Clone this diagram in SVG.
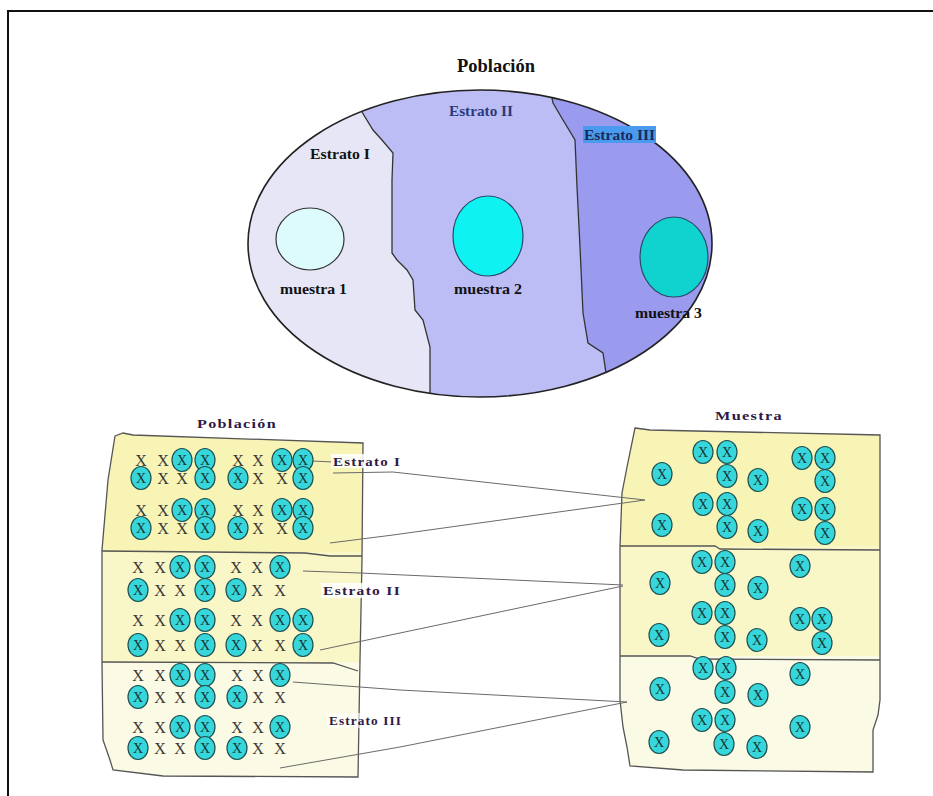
<svg xmlns="http://www.w3.org/2000/svg" xmlns:xlink="http://www.w3.org/1999/xlink" width="933" height="796" viewBox="0 0 933 796">
<style>
.t{font-family:"Liberation Serif","Times New Roman",serif;font-weight:bold;}
.top{font-size:15px;fill:#111;}
.lbl{font-size:12px;fill:#2E1A47;letter-spacing:1px;}
.px{font-family:"Liberation Serif",serif;font-size:16px;fill:#3a3a3a;text-anchor:middle;}
.cx{font-family:"Liberation Serif",serif;font-size:14px;fill:#1a3535;text-anchor:middle;}
.bd{fill:none;stroke:#333;stroke-width:1.3;}
.pe{fill:none;stroke:#555;stroke-width:1.3;}
.cn{fill:none;stroke:#6a6a6a;stroke-width:1;}
</style>
<defs>
<ellipse id="ci" cx="0" cy="0" rx="10" ry="11.5" fill="#36D6DA" stroke="#1F5050" stroke-width="1.2"/>
<clipPath id="ec"><ellipse cx="480" cy="243.5" rx="232" ry="153.5"/></clipPath>
<clipPath id="lp"><path d="M115,436 L123,433 L133,435 L363,443 L362,560 L360,660 L358,777 L163,776 L113,770 L110,760 L103,740 L102,663 L102,550 L108,480 Z"/></clipPath>
<clipPath id="rp"><path d="M635,428 L650,430 L880,435 L880,700 L878,715 L873,730 L873,772 L683,770 L630,766 L627,747 L623,727 L620,700 L620,547 L622,493 L627,467 Z"/></clipPath>
</defs>
<rect width="933" height="796" fill="#fff"/>
<path d="M8,796 L8,11 L933,11" fill="none" stroke="#111" stroke-width="2"/>

<g id="poblacion-top">
<text class="t" x="457" y="72" font-size="19" textLength="78" lengthAdjust="spacingAndGlyphs" fill="#111">Población</text>
<g clip-path="url(#ec)">
<rect x="240" y="80" width="480" height="330" fill="#E6E6F6"/>
<path d="M361,80 L361,108 L362,112 L373,130 L382,140 L393,153 L392,180 L392,253 L397,260 L407,270 L413,280 L415,310 L423,320 L430,347 L430,400 L608,400 L607,380 L603,353 L588,343 L583,313 L580,247 L577,187 L575,140 L563,120 L553,103 L550,88 L550,80 Z" fill="#BDBDF5"/>
<path d="M550,80 L550,88 L553,103 L563,120 L575,140 L577,187 L580,247 L583,313 L588,343 L603,353 L607,380 L608,400 L720,400 L720,80 Z" fill="#9A9AEE"/>
<path class="bd" d="M361,108 L362,112 L373,130 L382,140 L393,153 L392,180 L392,253 L397,260 L407,270 L413,280 L415,310 L423,320 L430,347 L430,400"/>
<path class="bd" d="M550,88 L553,103 L563,120 L575,140 L577,187 L580,247 L583,313 L588,343 L603,353 L607,380 L608,400"/>
</g>
<ellipse cx="480" cy="243.5" rx="232" ry="153.5" fill="none" stroke="#222" stroke-width="1.6"/>
</g>
<g id="estrato1-top">
<text class="t top" x="310" y="159" textLength="60" lengthAdjust="spacingAndGlyphs">Estrato I</text>
<ellipse cx="310" cy="239" rx="34" ry="31" fill="#DDFBFC" stroke="#333" stroke-width="1.2"/>
<text class="t top" x="280" y="294" textLength="67" lengthAdjust="spacingAndGlyphs">muestra 1</text>
</g>
<g id="estrato2-top">
<text class="t top" x="449" y="116" textLength="64" lengthAdjust="spacingAndGlyphs" style="fill:#2B3A7A">Estrato II</text>
<ellipse cx="488" cy="236" rx="35" ry="40" fill="#0FF2F2" stroke="#2a4a6a" stroke-width="1.2"/>
<text class="t top" x="454" y="294" textLength="68" lengthAdjust="spacingAndGlyphs">muestra 2</text>
</g>
<g id="estrato3-top">
<rect x="583" y="126" width="73" height="17" fill="#4A9BEF"/>
<text class="t top" x="584" y="140" textLength="71" lengthAdjust="spacingAndGlyphs" style="fill:#1a2a5a">Estrato III</text>
<ellipse cx="674" cy="257" rx="34" ry="40" fill="#10D2CE" stroke="#2a4a6a" stroke-width="1.2"/>
<text class="t top" x="635" y="318" textLength="67" lengthAdjust="spacingAndGlyphs">muestra 3</text>
</g>

<g id="panel-poblacion">
<text class="t lbl" x="197" y="428" textLength="80" lengthAdjust="spacingAndGlyphs">Población</text>
<g clip-path="url(#lp)">
<rect x="95" y="425" width="275" height="129" fill="#F8F4B6"/>
<rect x="95" y="552" width="275" height="114" fill="#F9F6C8"/>
<rect x="95" y="662" width="275" height="120" fill="#FBFAE4"/>
</g>
<path class="pe" d="M115,436 L123,433 L133,435 L363,443 L362,560 L360,660 L358,777 L163,776 L113,770 L110,760 L103,740 L102,663 L102,550 L108,480 Z"/>
<path class="pe" d="M102,551 L305,553 L330,556 L362,556"/>
<path class="pe" d="M102,662 L333,663 L358,671"/>
</g>

<g id="panel-muestra">
<text class="t lbl" x="715" y="420" textLength="68" lengthAdjust="spacingAndGlyphs">Muestra</text>
<g clip-path="url(#rp)">
<rect x="615" y="420" width="270" height="128" fill="#F8F4B6"/>
<rect x="615" y="546" width="270" height="113" fill="#F9F6C8"/>
<rect x="615" y="656" width="270" height="120" fill="#FBFAE4"/>
</g>
<path class="pe" d="M635,428 L650,430 L880,435 L880,700 L878,715 L873,730 L873,772 L683,770 L630,766 L627,747 L623,727 L620,700 L620,547 L622,493 L627,467 Z"/>
<path class="pe" d="M620,546 L715,546 L720,549 L880,550"/>
<path class="pe" d="M620,656 L690,656 L700,659 L880,660"/>
</g>

<g id="connectors">
<path class="cn" d="M312,461 L333,462"/>
<path class="cn" d="M333,473 L393,472 L645,500"/>
<path class="cn" d="M330,543 L393,535 L645,500"/>
<path class="cn" d="M303,571 L360,573 L623,585"/>
<path class="cn" d="M320,650 L400,633 L623,586"/>
<path class="cn" d="M293,682 L400,690 L627,702"/>
<path class="cn" d="M280,768 L400,747 L627,702"/>
</g>

<g id="estrato1-labels">
<rect x="331" y="454" width="73" height="14" fill="#fff" opacity="0.85"/>
<text class="t lbl" x="333" y="466" textLength="68" lengthAdjust="spacingAndGlyphs">Estrato I</text>
<rect x="321" y="583" width="82" height="15" fill="#fff" opacity="0.85"/>
<text class="t lbl" x="323" y="595" textLength="78" lengthAdjust="spacingAndGlyphs">Estrato II</text>
<rect x="327" y="713" width="77" height="15" fill="#fff" opacity="0.6"/>
<text class="t lbl" x="329" y="725" textLength="73" lengthAdjust="spacingAndGlyphs">Estrato III</text>
</g>

<g id="poblacion-estrato1">
<text class="px" x="141" y="466">X</text><text class="px" x="163" y="466">X</text>
<use href="#ci" x="182" y="460"/><text class="cx" x="182" y="465">X</text>
<use href="#ci" x="205" y="460"/><text class="cx" x="205" y="465">X</text>
<text class="px" x="238" y="466">X</text><text class="px" x="258" y="466">X</text>
<use href="#ci" x="282" y="460"/><text class="cx" x="282" y="465">X</text>
<use href="#ci" x="303" y="460"/><text class="cx" x="303" y="465">X</text>

<use href="#ci" x="141" y="478"/><text class="cx" x="141" y="483">X</text>
<text class="px" x="163" y="484">X</text><text class="px" x="182" y="484">X</text>
<use href="#ci" x="205" y="478"/><text class="cx" x="205" y="483">X</text>
<use href="#ci" x="238" y="478"/><text class="cx" x="238" y="483">X</text>
<text class="px" x="258" y="484">X</text><text class="px" x="282" y="484">X</text>
<use href="#ci" x="303" y="478"/><text class="cx" x="303" y="483">X</text>

<text class="px" x="141" y="516">X</text><text class="px" x="163" y="516">X</text>
<use href="#ci" x="182" y="510"/><text class="cx" x="182" y="515">X</text>
<use href="#ci" x="205" y="510"/><text class="cx" x="205" y="515">X</text>
<text class="px" x="238" y="516">X</text><text class="px" x="258" y="516">X</text>
<use href="#ci" x="282" y="510"/><text class="cx" x="282" y="515">X</text>
<use href="#ci" x="303" y="510"/><text class="cx" x="303" y="515">X</text>

<use href="#ci" x="141" y="528"/><text class="cx" x="141" y="533">X</text>
<text class="px" x="163" y="534">X</text><text class="px" x="182" y="534">X</text>
<use href="#ci" x="205" y="528"/><text class="cx" x="205" y="533">X</text>
<use href="#ci" x="238" y="528"/><text class="cx" x="238" y="533">X</text>
<text class="px" x="258" y="534">X</text><text class="px" x="282" y="534">X</text>
<use href="#ci" x="303" y="528"/><text class="cx" x="303" y="533">X</text>
</g>

<g id="poblacion-estrato2">
<text class="px" x="138" y="573">X</text><text class="px" x="160" y="573">X</text>
<use href="#ci" x="180" y="567"/><text class="cx" x="180" y="572">X</text>
<use href="#ci" x="205" y="567"/><text class="cx" x="205" y="572">X</text>
<text class="px" x="236" y="573">X</text><text class="px" x="257" y="573">X</text>
<use href="#ci" x="280" y="567"/><text class="cx" x="280" y="572">X</text>

<use href="#ci" x="138" y="590"/><text class="cx" x="138" y="595">X</text>
<text class="px" x="160" y="596">X</text><text class="px" x="180" y="596">X</text>
<use href="#ci" x="205" y="590"/><text class="cx" x="205" y="595">X</text>
<use href="#ci" x="236" y="590"/><text class="cx" x="236" y="595">X</text>
<text class="px" x="257" y="596">X</text><text class="px" x="280" y="596">X</text>

<text class="px" x="138" y="626">X</text><text class="px" x="160" y="626">X</text>
<use href="#ci" x="180" y="620"/><text class="cx" x="180" y="625">X</text>
<use href="#ci" x="205" y="620"/><text class="cx" x="205" y="625">X</text>
<text class="px" x="236" y="626">X</text><text class="px" x="257" y="626">X</text>
<use href="#ci" x="280" y="620"/><text class="cx" x="280" y="625">X</text>
<use href="#ci" x="303" y="620"/><text class="cx" x="303" y="625">X</text>

<use href="#ci" x="138" y="645"/><text class="cx" x="138" y="650">X</text>
<text class="px" x="160" y="651">X</text><text class="px" x="180" y="651">X</text>
<use href="#ci" x="205" y="645"/><text class="cx" x="205" y="650">X</text>
<use href="#ci" x="236" y="645"/><text class="cx" x="236" y="650">X</text>
<text class="px" x="257" y="651">X</text><text class="px" x="280" y="651">X</text>
<use href="#ci" x="303" y="645"/><text class="cx" x="303" y="650">X</text>
</g>

<g id="poblacion-estrato3">
<text class="px" x="138" y="681">X</text><text class="px" x="160" y="681">X</text>
<use href="#ci" x="180" y="675"/><text class="cx" x="180" y="680">X</text>
<use href="#ci" x="205" y="675"/><text class="cx" x="205" y="680">X</text>
<text class="px" x="237" y="681">X</text><text class="px" x="258" y="681">X</text>
<use href="#ci" x="280" y="675"/><text class="cx" x="280" y="680">X</text>

<use href="#ci" x="138" y="697"/><text class="cx" x="138" y="702">X</text>
<text class="px" x="160" y="703">X</text><text class="px" x="180" y="703">X</text>
<use href="#ci" x="205" y="697"/><text class="cx" x="205" y="702">X</text>
<use href="#ci" x="237" y="697"/><text class="cx" x="237" y="702">X</text>
<text class="px" x="258" y="703">X</text><text class="px" x="280" y="703">X</text>

<text class="px" x="138" y="733">X</text><text class="px" x="160" y="733">X</text>
<use href="#ci" x="180" y="727"/><text class="cx" x="180" y="732">X</text>
<use href="#ci" x="205" y="727"/><text class="cx" x="205" y="732">X</text>
<text class="px" x="237" y="733">X</text><text class="px" x="258" y="733">X</text>
<use href="#ci" x="280" y="727"/><text class="cx" x="280" y="732">X</text>

<use href="#ci" x="138" y="748"/><text class="cx" x="138" y="753">X</text>
<text class="px" x="160" y="754">X</text><text class="px" x="180" y="754">X</text>
<use href="#ci" x="205" y="748"/><text class="cx" x="205" y="753">X</text>
<use href="#ci" x="237" y="748"/><text class="cx" x="237" y="753">X</text>
<text class="px" x="258" y="754">X</text><text class="px" x="280" y="754">X</text>
</g>

<g id="muestra-estrato1">
<use href="#ci" x="662" y="474"/><text class="cx" x="662" y="479">X</text>
<use href="#ci" x="703" y="452"/><text class="cx" x="703" y="457">X</text>
<use href="#ci" x="727" y="452"/><text class="cx" x="727" y="457">X</text>
<use href="#ci" x="727" y="476"/><text class="cx" x="727" y="481">X</text>
<use href="#ci" x="758" y="480"/><text class="cx" x="758" y="485">X</text>
<use href="#ci" x="802" y="458"/><text class="cx" x="802" y="463">X</text>
<use href="#ci" x="825" y="458"/><text class="cx" x="825" y="463">X</text>
<use href="#ci" x="825" y="481"/><text class="cx" x="825" y="486">X</text>
<use href="#ci" x="703" y="504"/><text class="cx" x="703" y="509">X</text>
<use href="#ci" x="727" y="504"/><text class="cx" x="727" y="509">X</text>
<use href="#ci" x="802" y="509"/><text class="cx" x="802" y="514">X</text>
<use href="#ci" x="825" y="509"/><text class="cx" x="825" y="514">X</text>
<use href="#ci" x="662" y="525"/><text class="cx" x="662" y="530">X</text>
<use href="#ci" x="727" y="527"/><text class="cx" x="727" y="532">X</text>
<use href="#ci" x="758" y="531"/><text class="cx" x="758" y="536">X</text>
<use href="#ci" x="825" y="533"/><text class="cx" x="825" y="538">X</text>
</g>

<g id="muestra-estrato2">
<use href="#ci" x="702" y="562"/><text class="cx" x="702" y="567">X</text>
<use href="#ci" x="725" y="562"/><text class="cx" x="725" y="567">X</text>
<use href="#ci" x="800" y="566"/><text class="cx" x="800" y="571">X</text>
<use href="#ci" x="660" y="583"/><text class="cx" x="660" y="588">X</text>
<use href="#ci" x="725" y="585"/><text class="cx" x="725" y="590">X</text>
<use href="#ci" x="758" y="588"/><text class="cx" x="758" y="593">X</text>
<use href="#ci" x="702" y="613"/><text class="cx" x="702" y="618">X</text>
<use href="#ci" x="725" y="613"/><text class="cx" x="725" y="618">X</text>
<use href="#ci" x="800" y="619"/><text class="cx" x="800" y="624">X</text>
<use href="#ci" x="822" y="619"/><text class="cx" x="822" y="624">X</text>
<use href="#ci" x="659" y="635"/><text class="cx" x="659" y="640">X</text>
<use href="#ci" x="725" y="637"/><text class="cx" x="725" y="642">X</text>
<use href="#ci" x="757" y="640"/><text class="cx" x="757" y="645">X</text>
<use href="#ci" x="822" y="643"/><text class="cx" x="822" y="648">X</text>
</g>

<g id="muestra-estrato3">
<use href="#ci" x="703" y="668"/><text class="cx" x="703" y="673">X</text>
<use href="#ci" x="726" y="668"/><text class="cx" x="726" y="673">X</text>
<use href="#ci" x="800" y="674"/><text class="cx" x="800" y="679">X</text>
<use href="#ci" x="660" y="689"/><text class="cx" x="660" y="694">X</text>
<use href="#ci" x="725" y="692"/><text class="cx" x="725" y="697">X</text>
<use href="#ci" x="758" y="695"/><text class="cx" x="758" y="700">X</text>
<use href="#ci" x="702" y="720"/><text class="cx" x="702" y="725">X</text>
<use href="#ci" x="725" y="720"/><text class="cx" x="725" y="725">X</text>
<use href="#ci" x="800" y="727"/><text class="cx" x="800" y="732">X</text>
<use href="#ci" x="659" y="742"/><text class="cx" x="659" y="747">X</text>
<use href="#ci" x="724" y="744"/><text class="cx" x="724" y="749">X</text>
<use href="#ci" x="757" y="747"/><text class="cx" x="757" y="752">X</text>
</g>
</svg>
